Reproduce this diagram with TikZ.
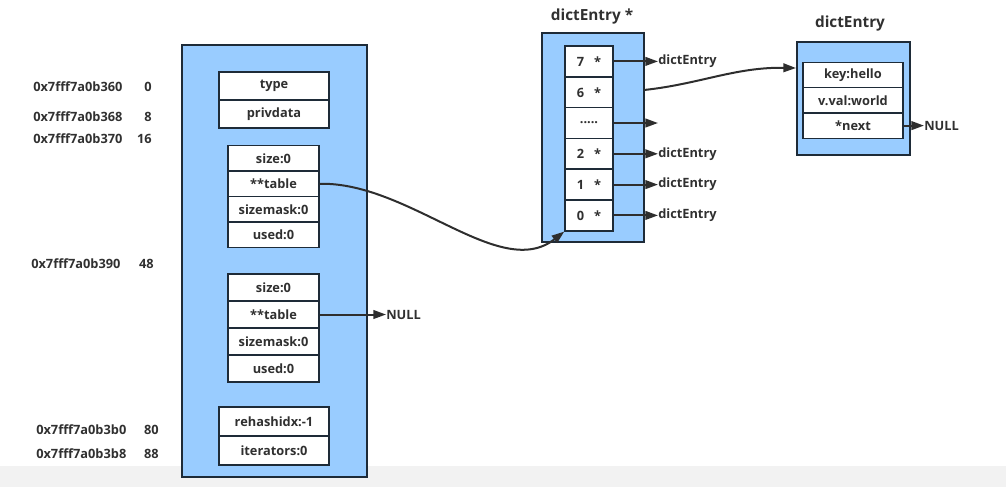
\documentclass[tikz,border=0pt]{standalone}
\usepackage{fontspec}
\setmainfont{Open Sans}
\usetikzlibrary{arrows.meta}
\definecolor{boxblue}{HTML}{99CCFF}
\definecolor{edge}{HTML}{1E2B38}
\definecolor{arr}{HTML}{2E2E2E}
\definecolor{band}{HTML}{F2F2F2}
\definecolor{txt}{HTML}{303030}
\tikzset{
  outerbox/.style={draw=edge, line width=1.5pt, fill=boxblue, inner sep=0pt},
  cell/.style={draw=edge, line width=1.1pt, fill=white, inner sep=0pt, text=txt,
    font=\fontsize{9.6}{10}\selectfont\bfseries},
  lbl/.style={inner sep=0pt, text=txt, font=\fontsize{9.6}{10}\selectfont\bfseries},
  ttl/.style={inner sep=0pt, text=txt, font=\fontsize{11.5}{12}\selectfont\bfseries},
  ptr/.style={draw=arr, line width=1.5pt, -{Triangle[length=9.5pt,width=6.5pt]}},
}
\begin{document}
\begin{tikzpicture}[x=0.75pt,y=-0.75pt]
\useasboundingbox (0,0) rectangle (1006,487);
\fill[band] (0,466) rectangle (1006,487);

% address labels
\node[lbl,anchor=west] (h0) at (33,87) {0x7fff7a0b360};
\node[lbl,anchor=east] (o0) at (152,87) {0};
\node[lbl,anchor=west] (h8) at (33,117) {0x7fff7a0b368};
\node[lbl,anchor=east] (o8) at (152,117) {8};
\node[lbl,anchor=west] (h16) at (33,139) {0x7fff7a0b370};
\node[lbl,anchor=east] (o16) at (152,139) {16};
\node[lbl,anchor=west] (h48) at (31,264) {0x7fff7a0b390};
\node[lbl,anchor=east] (o48) at (154,264) {48};
\node[lbl,anchor=west] (h80) at (36,430) {0x7fff7a0b3b0};
\node[lbl,anchor=east] (o80) at (159,430) {80};
\node[lbl,anchor=west] (h88) at (36,454) {0x7fff7a0b3b8};
\node[lbl,anchor=east] (o88) at (159,454) {88};

% dict main box
\node[outerbox, minimum width=138.75pt, minimum height=324pt] (dict) at (274.5,261) {};
\node[cell, minimum width=82.5pt, minimum height=21pt] (type) at (274,86) {type};
\node[cell, minimum width=82.5pt, minimum height=21pt] (privdata) at (274,114) {privdata};

% ht[0]
\node[cell, minimum width=68.25pt, minimum height=19.1pt] (size0) at (273.5,158.25) {size:0};
\node[cell, minimum width=68.25pt, minimum height=19.1pt] (table0) at (273.5,183.75) {**table};
\node[cell, minimum width=68.25pt, minimum height=19.1pt] (mask0) at (273.5,209.25) {sizemask:0};
\node[cell, minimum width=68.25pt, minimum height=19.1pt] (used0) at (273.5,234.75) {used:0};

% ht[1]
\node[cell, minimum width=68.25pt, minimum height=20.25pt] (size1) at (273.5,287.5) {size:0};
\node[cell, minimum width=68.25pt, minimum height=20.25pt] (table1) at (273.5,314.5) {**table};
\node[cell, minimum width=68.25pt, minimum height=20.25pt] (mask1) at (273.5,341.5) {sizemask:0};
\node[cell, minimum width=68.25pt, minimum height=20.25pt] (used1) at (273.5,368.5) {used:0};

\node[cell, minimum width=82.5pt, minimum height=21.75pt] (rehash) at (274,421.5) {rehashidx:-1};
\node[cell, minimum width=82.5pt, minimum height=21.75pt] (iter) at (274,450.5) {iterators:0};

\node[lbl, anchor=west] (null1) at (386,314.5) {NULL};
\draw[ptr] (table1.east) -- (null1.west);

% dictEntry* array
\node[ttl] (arrttl) at (592,17) {dictEntry *};
\node[outerbox, minimum width=76.5pt, minimum height=156.75pt] (arr) at (593,137.5) {};
\node[cell, minimum width=36pt, minimum height=23.1pt] (c7) at (589,61.4) {7\ \ \ *};
\node[cell, minimum width=36pt, minimum height=23.1pt] (c6) at (589,92.2) {6\ \ \ *};
\node[cell, minimum width=36pt, minimum height=23.1pt] (cd) at (589,123) {.....};
\node[cell, minimum width=36pt, minimum height=23.1pt] (c2) at (589,153.8) {2\ \ \ *};
\node[cell, minimum width=36pt, minimum height=23.1pt] (c1) at (589,184.6) {1\ \ \ *};
\node[cell, minimum width=36pt, minimum height=23.1pt] (c0) at (589,215.4) {0\ \ \ *};

\node[lbl, anchor=west] (e7) at (658,61.4) {dictEntry};
\node[lbl, anchor=west] (e2) at (658,153.8) {dictEntry};
\node[lbl, anchor=west] (e1) at (658,184.6) {dictEntry};
\node[lbl, anchor=west] (e0) at (658,215.4) {dictEntry};
\coordinate (ed) at (658,123);
\draw[ptr] (c7.east) -- (e7.west);
\draw[ptr] (cd.east) -- (ed);
\draw[ptr] (c2.east) -- (e2.west);
\draw[ptr] (c1.east) -- (e1.west);
\draw[ptr] (c0.east) -- (e0.west);

% dictEntry
\node[ttl] (entttl) at (850,24) {dictEntry};
\node[outerbox, minimum width=84.75pt, minimum height=84.75pt] (ent) at (853.5,98.5) {};
\node[cell, minimum width=75pt, minimum height=19pt] (key) at (853,75) {key:hello};
\node[cell, minimum width=75pt, minimum height=19pt] (val) at (853,100.3) {v.val:world};
\node[cell, minimum width=75pt, minimum height=19pt] (next) at (853,125.6) {*next};
\node[lbl, anchor=west] (null2) at (924,125.6) {NULL};
\draw[ptr] (next.east) -- (null2.west);

% curves
\coordinate (s6) at (644,90);
\draw[ptr] (s6) .. controls (700,84) and (735,67) .. (ent.west |- 0,68);
\draw[ptr] (table0.east) .. controls (410,182) and (500,282) .. (c0.south west);
\end{tikzpicture}
\end{document}
